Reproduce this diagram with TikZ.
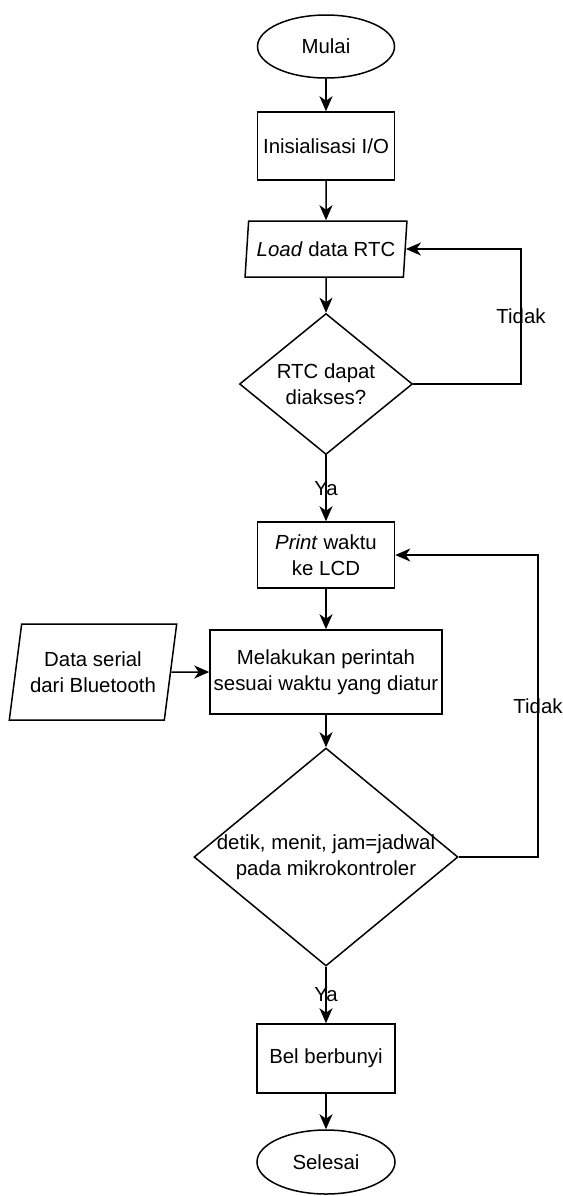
\documentclass[tikz,border=0pt]{standalone}
\usepackage{fontspec}
\setmainfont{Liberation Sans}
\usetikzlibrary{shapes.geometric,arrows.meta}

\tikzset{every picture/.style={line width=0.75pt}}
\tikzset{
  every node/.style={font=\fontsize{10.2}{12.9}\selectfont},
  terminal/.style={draw,ellipse,inner sep=0pt,minimum width=68.5pt,minimum height=31.5pt},
  proses/.style={draw,rectangle,align=center,inner sep=0pt,minimum width=68.5pt,minimum height=34pt},
  io/.style={draw,trapezium,trapezium left angle=78,trapezium right angle=102,
    trapezium stretches=true,align=center,inner sep=0pt},
  keputusan/.style={draw,diamond,inner sep=0pt,align=center},
  arr/.style={-{Stealth[length=7.5pt,width=6.5pt,inset=2.2pt]}},
}

\begin{document}
\begin{tikzpicture}[x=0.5pt,y=-0.5pt]
  \useasboundingbox (0,0) rectangle (563,1196);

  % --- bagian atas ---
  \node[terminal] (mulai) at (326,46.5) {Mulai};
  \node[proses] (init) at (326,146) {Inisialisasi I/O};
  \node[io,minimum width=81pt,minimum height=28pt] (load) at (326,249) {\textit{Load} data RTC};
  \node[keputusan,minimum width=86.5pt,minimum height=70.5pt] (rtc) at (326,384) {RTC dapat\\diakses?};
  \coordinate (loop1) at (521,384);

  % --- bagian tengah ---
  \node[proses,minimum height=33pt] (print) at (326,555) {\textit{Print} waktu\\ke LCD};
  \node[proses,minimum width=116pt,minimum height=42pt] (perintah) at (326,672)
    {Melakukan perintah\\sesuai waktu yang diatur};
  \node[io,trapezium left angle=75,trapezium right angle=105,minimum width=84pt,
    minimum height=48pt] (serial) at (93,672) {Data serial\\dari Bluetooth};
  \node[keputusan,minimum width=132pt,minimum height=109pt,
    label={[align=center]center:detik, menit, jam=jadwal\\pada mikrokontroler}] (jadwal) at (326,857) {};
  \coordinate (loop2) at (538,857);

  % --- bagian bawah ---
  \node[proses,minimum width=69pt,minimum height=34.5pt] (bel) at (326,1058.5) {Bel berbunyi};
  \node[terminal,minimum width=69pt,minimum height=32pt] (selesai) at (326,1162) {Selesai};

  % --- panah ---
  \draw[arr] (mulai) -- (init);
  \draw[arr] (init) -- (load);
  \draw[arr] (load) -- (rtc);
  \draw[arr] (rtc.east) -- (loop1) -- node{Tidak} (load.east -| loop1) -- (load.east);
  \draw[arr] (rtc) -- node{Ya} (print);
  \draw[arr] (print) -- (perintah);
  \draw[arr] (serial.east) -- (perintah.west);
  \draw[arr] (perintah) -- (jadwal);
  \draw[arr] (jadwal.east) -- (loop2) -- node{Tidak} (print.east -| loop2) -- (print.east);
  \draw[arr] (jadwal) -- node{Ya} (bel);
  \draw[arr] (bel) -- (selesai);
\end{tikzpicture}
\end{document}
